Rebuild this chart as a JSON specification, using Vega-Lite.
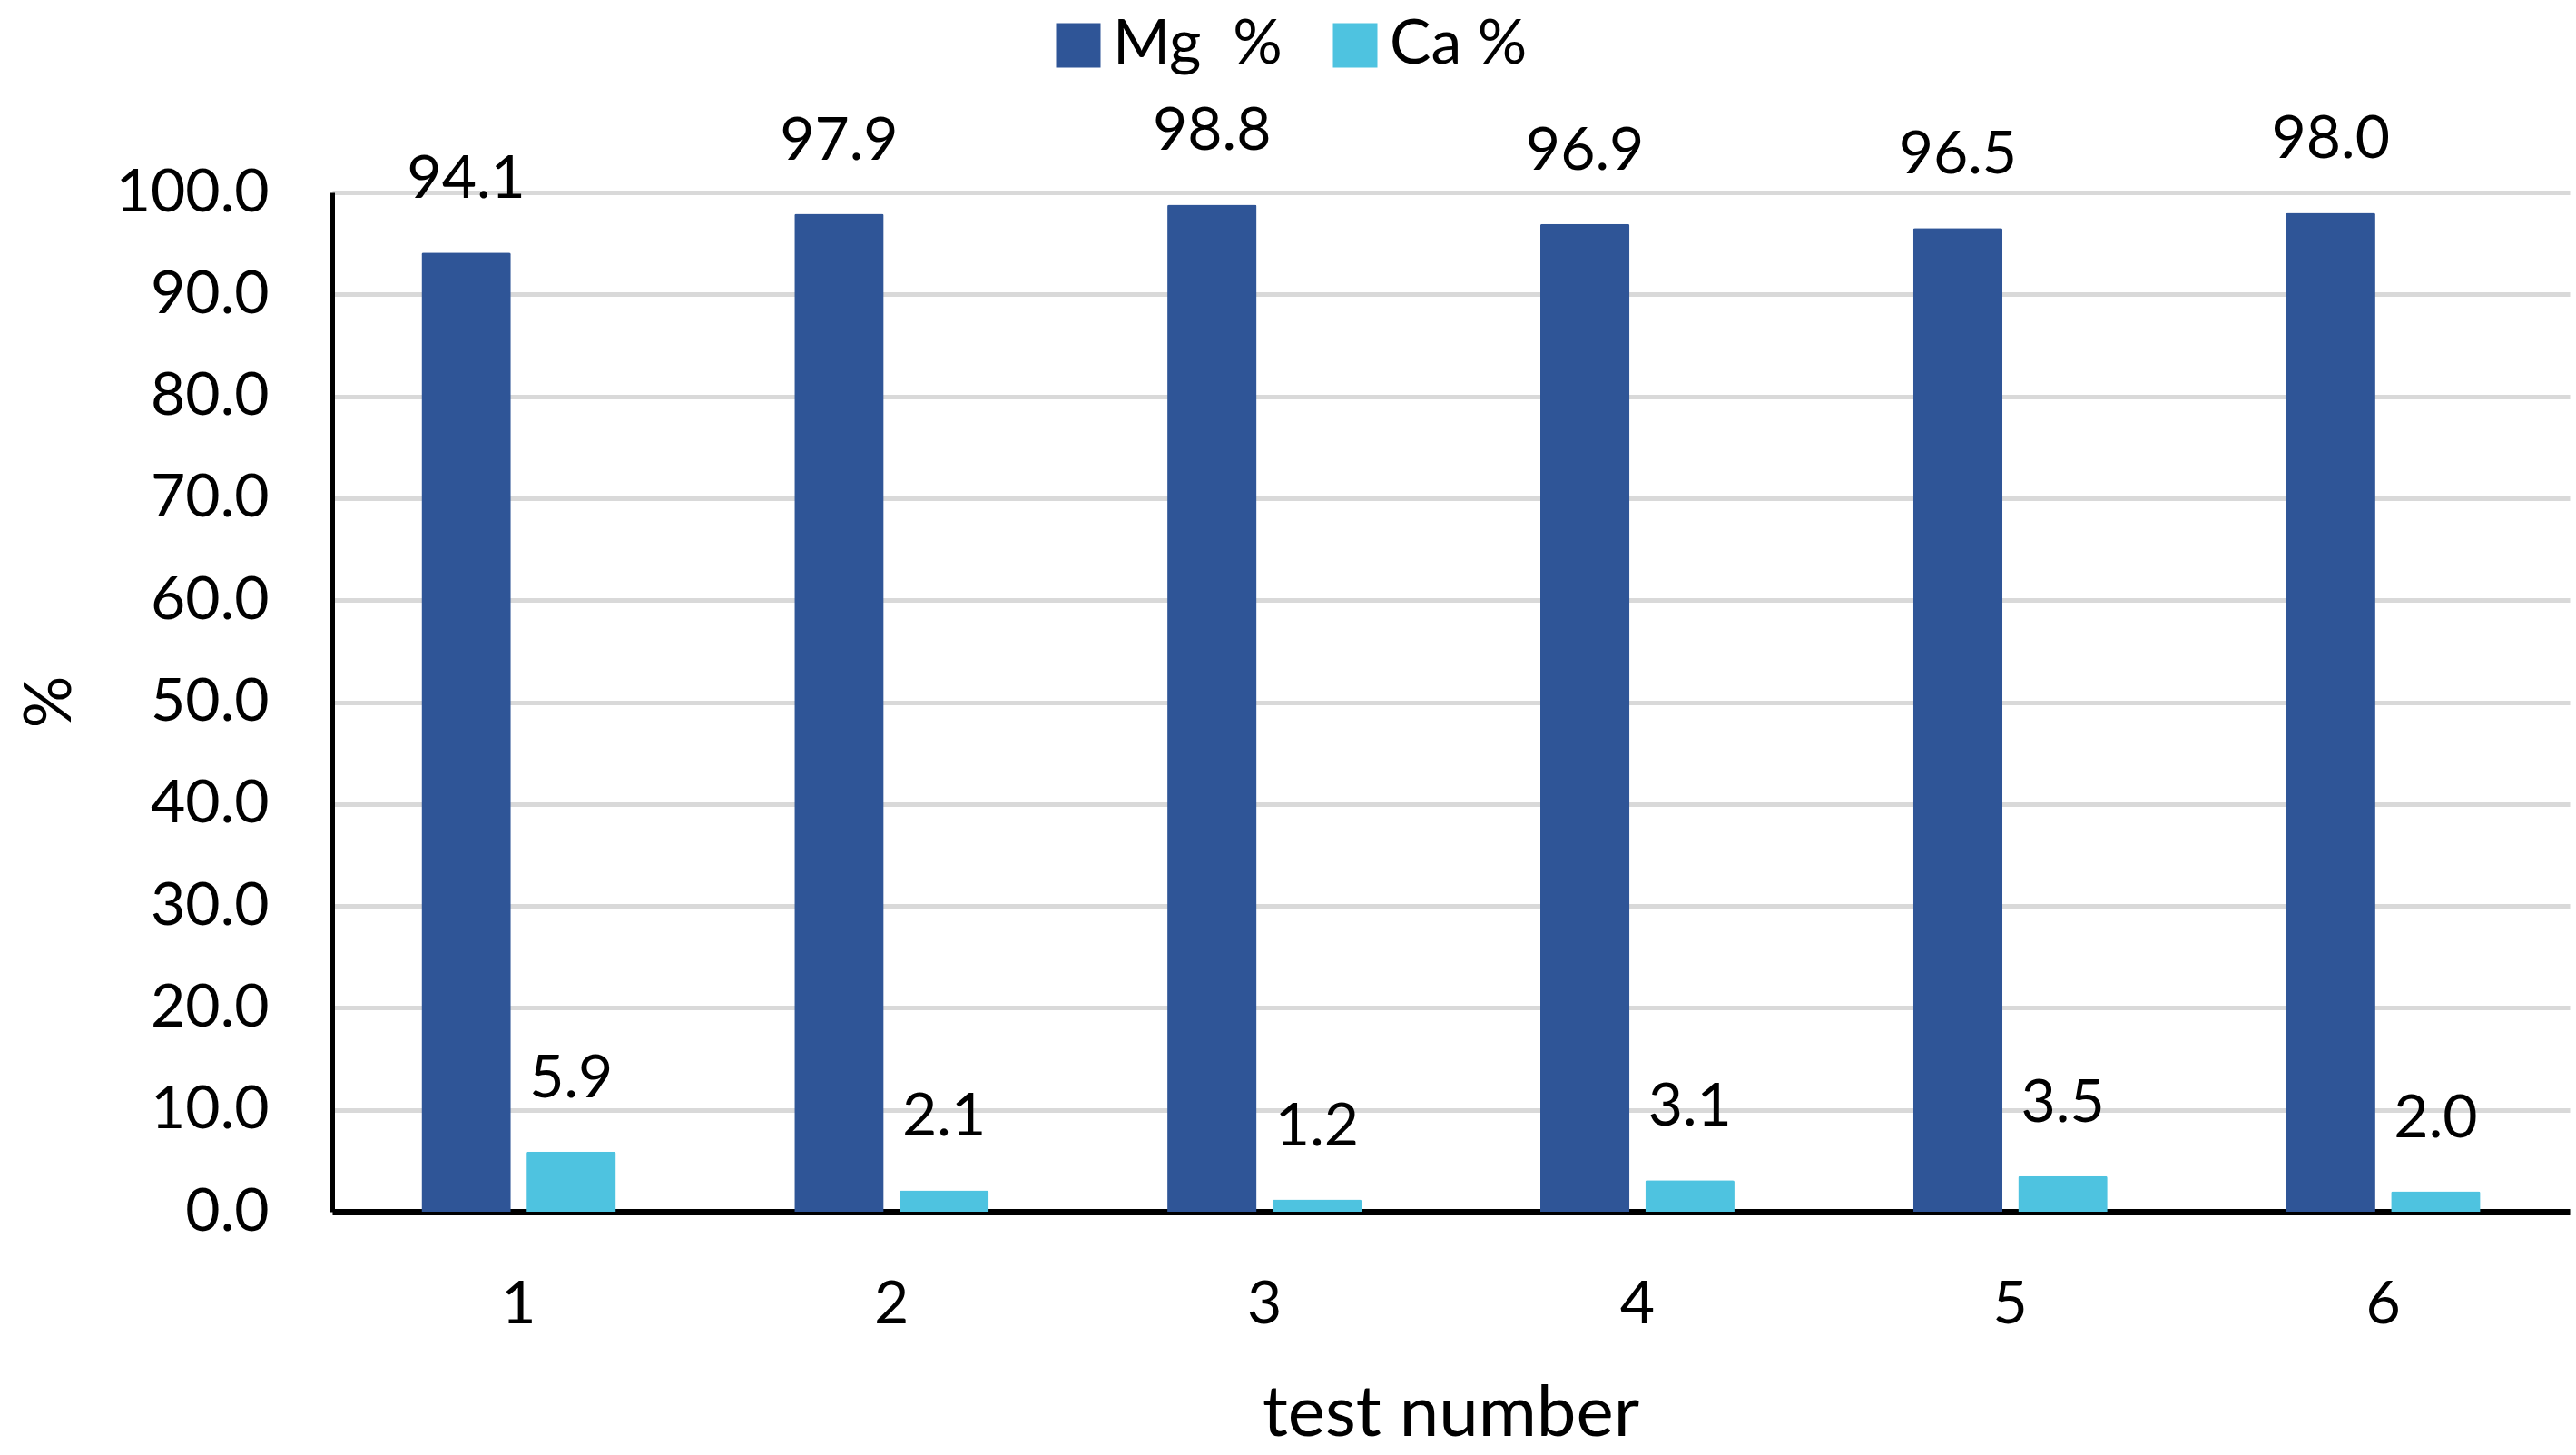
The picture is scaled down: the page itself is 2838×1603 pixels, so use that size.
{
  "$schema": "https://vega.github.io/schema/vega-lite/v6.json",
  "width": 2465,
  "height": 1123,
  "autosize": {"type": "none"},
  "padding": {"left": 366, "top": 212, "right": 7, "bottom": 268},
  "background": "white",
  "data": {
    "values": [
      {"test": "1", "series": "Mg\u00a0 %", "value": 94.1},
      {"test": "1", "series": "Ca %", "value": 5.9},
      {"test": "2", "series": "Mg\u00a0 %", "value": 97.9},
      {"test": "2", "series": "Ca %", "value": 2.1},
      {"test": "3", "series": "Mg\u00a0 %", "value": 98.8},
      {"test": "3", "series": "Ca %", "value": 1.2},
      {"test": "4", "series": "Mg\u00a0 %", "value": 96.9},
      {"test": "4", "series": "Ca %", "value": 3.1},
      {"test": "5", "series": "Mg\u00a0 %", "value": 96.5},
      {"test": "5", "series": "Ca %", "value": 3.5},
      {"test": "6", "series": "Mg\u00a0 %", "value": 98.0},
      {"test": "6", "series": "Ca %", "value": 2.0}
    ]
  },
  "encoding": {
    "x": {
      "field": "test", "type": "nominal",
      "scale": {"paddingInner": 0.479, "paddingOuter": 0.2395},
      "axis": {
        "title": "test number", "labelAngle": 0, "ticks": false, "tickSize": 0,
        "labelPadding": 122, "labelBaseline": "alphabetic",
        "domainColor": "black", "domainWidth": 7,
        "titleX": 1232, "titleY": 246, "titleBaseline": "alphabetic", "titleFontSize": 78
      }
    },
    "xOffset": {
      "field": "series", "type": "nominal", "sort": ["Mg\u00a0 %", "Ca %"],
      "scale": {"paddingInner": 0.15, "paddingOuter": 0}
    },
    "y": {
      "field": "value", "type": "quantitative",
      "scale": {"domain": [0, 100], "nice": false},
      "axis": {
        "title": "%", "values": [0, 10, 20, 30, 40, 50, 60, 70, 80, 90, 100], "format": ".1f",
        "ticks": false, "tickSize": 0, "labelPadding": 70,
        "domainColor": "black", "domainWidth": 5,
        "gridColor": "#D9D9D9", "gridWidth": 5,
        "titleX": -311, "titleY": 561, "titleBaseline": "middle", "titleFontSize": 72
      }
    }
  },
  "layer": [
    {
      "mark": {"type": "bar", "cornerRadiusTopLeft": 2, "cornerRadiusTopRight": 2},
      "encoding": {
        "color": {
          "field": "series", "type": "nominal", "sort": ["Mg\u00a0 %", "Ca %"],
          "scale": {"domain": ["Mg\u00a0 %", "Ca %"], "range": ["#2F5597", "#4EC3E0"]},
          "legend": {
            "title": null, "orient": "none", "direction": "horizontal",
            "legendX": 788, "legendY": -196, "padding": 0,
            "symbolType": "square", "symbolSize": 2401, "symbolStrokeWidth": 0,
            "symbolOpacity": 1, "labelOffset": 4, "columnPadding": 46,
            "labelLimit": 0, "labelFontSize": 68
          }
        }
      }
    },
    {
      "mark": {"type": "text", "baseline": "alphabetic", "dy": -60, "fontSize": 66, "font": "Lato", "color": "black"},
      "encoding": {
        "text": {"field": "value", "type": "quantitative", "format": ".1f"}
      }
    }
  ],
  "config": {
    "view": {"stroke": null},
    "font": "Lato",
    "axis": {
      "labelFont": "Lato", "labelFontSize": 66, "labelColor": "black",
      "titleFont": "Lato", "titleFontWeight": "normal", "titleColor": "black"
    },
    "legend": {"labelFont": "Lato", "labelColor": "black"}
  }
}
